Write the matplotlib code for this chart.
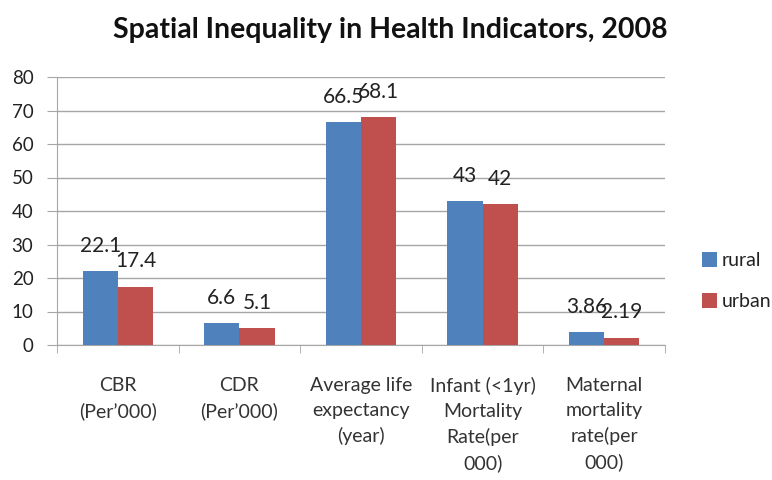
import numpy as np
import matplotlib.pyplot as plt

plt.rcParams['font.family'] = ['Lato', 'DejaVu Sans']

categories = ['CBR\n(Per\u2019000)', 'CDR\n(Per\u2019000)', 'Average life\nexpectancy\n(year)',
              'Infant (<1yr)\nMortality\nRate(per\n000)', 'Maternal\nmortality\nrate(per\n000)']
rural = [22.1, 6.6, 66.5, 43, 3.86]
urban = [17.4, 5.1, 68.1, 42, 2.19]
rural_labels = ['22.1', '6.6', '66.5', '43', '3.86']
urban_labels = ['17.4', '5.1', '68.1', '42', '2.19']

fig = plt.figure(figsize=(7.72, 4.8), dpi=100)
ax = fig.add_axes([57/772, 1 - 345/480, (665 - 57)/772, (345 - 77)/480])

x = np.arange(len(categories))
w = 0.29
b1 = ax.bar(x - w/2, rural, w, color='#4F81BD', label='rural', zorder=3)
b2 = ax.bar(x + w/2, urban, w, color='#C0504D', label='urban', zorder=3)

for bars, labs in ((b1, rural_labels), (b2, urban_labels)):
	for r, t in zip(bars, labs):
		ax.annotate(t, (r.get_x() + r.get_width()/2, r.get_height()), xytext=(0, 11),
					textcoords='offset points', ha='center', va='bottom',
					fontsize=15, color='#222222', zorder=4)

ax.set_xlim(-0.5, len(categories) - 0.5)
ax.set_ylim(0, 80)
ax.set_yticks(range(0, 81, 10))
ax.yaxis.grid(True, color='#A6A6A6', linewidth=1, zorder=0)
ax.tick_params(axis='y', labelsize=13.5, length=7, color='#A6A6A6', pad=10, labelcolor='#222222')

ax.set_xticks(x)
ax.set_xticklabels(categories, fontsize=14, color='#333333', linespacing=1.55, va='top')
ax.tick_params(axis='x', which='major', length=0, pad=23)
ax.set_xticks(np.arange(len(categories) + 1) - 0.5, minor=True)
ax.tick_params(axis='x', which='minor', length=6, color='#A6A6A6')

for s in ('top', 'right'):
	ax.spines[s].set_visible(False)
ax.spines['left'].set_color('#A6A6A6')
ax.spines['bottom'].set_color('#A6A6A6')

fig.text(390/772, 1 - 30/480, 'Spatial Inequality in Health Indicators, 2008',
		 ha='center', va='center', fontsize=20.5, fontweight='bold', color='#111111')

fig.legend(handles=[b1, b2], loc='center left', bbox_to_anchor=(684/772, 1 - 281/480),
		   frameon=False, fontsize=14, handlelength=0.8, handleheight=0.8,
		   handletextpad=0.25, labelspacing=1.2, labelcolor='#222222')

fig.savefig('out.png', dpi=100)
